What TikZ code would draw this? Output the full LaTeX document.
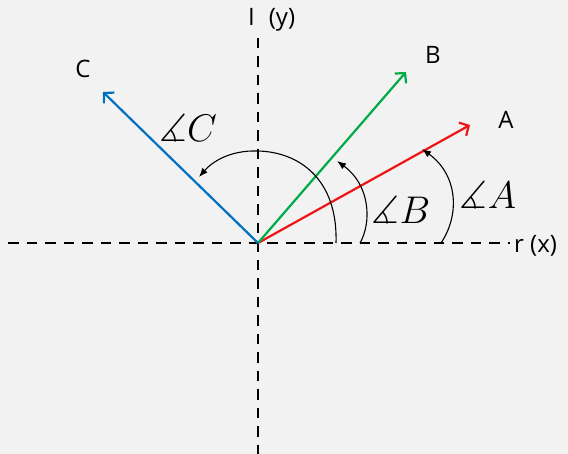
\documentclass[tikz,border=0pt]{standalone}
\usepackage{amssymb}
\usepackage{fontspec}
\setsansfont{Open Sans}
\usetikzlibrary{arrows.meta, positioning}

\definecolor{vecA}{RGB}{240,20,20}
\definecolor{vecB}{RGB}{0,170,70}
\definecolor{vecC}{RGB}{0,112,192}
\definecolor{bgray}{RGB}{242,242,242}

\begin{document}
\begin{tikzpicture}[
    x=1pt, y=-1pt,
    axis/.style={draw=black, line width=2.6pt, dash pattern=on 10.5pt off 8pt},
    vec/.style={line width=2.2pt, -{Straight Barb[length=7pt, width=15pt, line width=2.2pt]}},
    sweep/.style={line width=1.1pt, -{Latex[length=9pt, width=7pt]}},
    tag/.style={font=\sffamily\fontsize{24}{28}\selectfont, inner sep=0pt},
    ang/.style={font=\Huge, scale=1.55, inner sep=0pt},
]

%% Canvas
\fill[bgray] (0,0) rectangle (568,454);
\useasboundingbox (0,0) rectangle (568,454);

%% Points
\coordinate (O)  at (258,243);
\coordinate (A)  at (470,125);
\coordinate (B)  at (406,72);
\coordinate (C)  at (103,92);
\coordinate (xl) at (8,243);
\coordinate (xr) at (510,243);
\coordinate (yt) at (258,38);
\coordinate (yb) at (258,454);

%% Axes
\draw[axis] (xl) -- (xr);
\draw[axis] (yt) -- (yb);
\node[tag, anchor=west] (xlab) at (514,246) {r (x)};
\node[tag, anchor=west] (ylab) at (248,20) {I\hspace{14pt}(y)};

%% Vectors
\draw[vec, vecA] (O) -- (A);
\draw[vec, vecB] (O) -- (B);
\draw[vec, vecC] (O) -- (C);
\node[tag] (labA) at (506,120) {A};
\node[tag] (labB) at (433,55)  {B};
\node[tag] (labC) at (83,69)   {C};

%% Angle sweeps
\coordinate (a0) at (441,243);
\coordinate (a1) at (422,149);
\coordinate (b0) at (360,243);
\coordinate (b1) at (337,161);
\coordinate (c0) at (336,243);
\coordinate (cm) at (258,151);
\coordinate (c1) at (199,177);
\draw[sweep] (a0) .. controls (460,215) and (458,175) .. (a1);
\draw[sweep] (b0) .. controls (372,222) and (370,185) .. (b1);
\draw[sweep] (c0) .. controls (338,180) and (300,152) .. (cm)
                  .. controls (230,150) and (212,162) .. (c1);

%% Angle labels
\node[ang] (angA) at (488,195) {$\measuredangle A$};
\node[ang] (angB) at (401,210) {$\measuredangle B$};
\node[ang] (angC) at (188,128) {$\measuredangle C$};

\end{tikzpicture}
\end{document}
